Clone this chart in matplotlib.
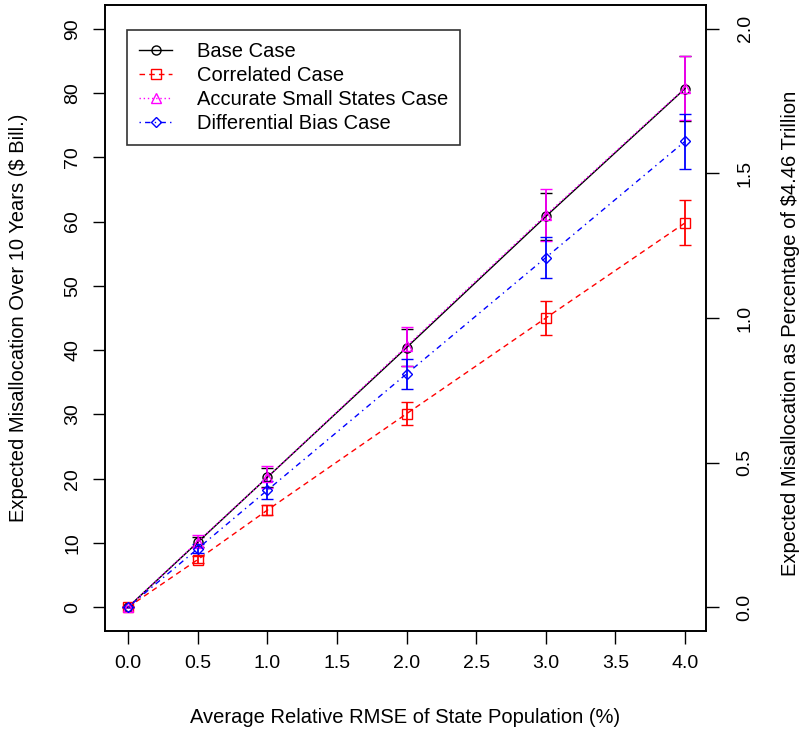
import matplotlib.pyplot as plt
import numpy as np

plt.rcParams["font.family"] = ["Liberation Sans", "DejaVu Sans"]

# relative RMSE of state population (%)
rmse = [0.0, 0.5, 1.0, 2.0, 3.0, 4.0]

base = [0.0, 10.1, 20.2, 40.4, 60.8, 80.7]
base_err = [0.0, 0.8, 1.5, 2.9, 3.6, 5.0]

correlated = [0.0, 7.4, 15.1, 30.1, 45.0, 59.8]
correlated_err = [0.0, 0.5, 0.8, 1.8, 2.7, 3.5]

small_states = [0.0, 10.2, 20.2, 40.6, 61.0, 80.8]
small_states_err = [0.0, 1.0, 1.7, 3.0, 4.0, 5.0]

diff_bias = [0.0, 9.1, 18.2, 36.3, 54.4, 72.5]
diff_bias_err = [0.0, 0.7, 1.4, 2.3, 3.2, 4.3]

x_ticks = [0.0, 0.5, 1.0, 1.5, 2.0, 2.5, 3.0, 3.5, 4.0]
y_ticks = [0, 10, 20, 30, 40, 50, 60, 70, 80, 90]
pct_ticks = [0.0, 0.5, 1.0, 1.5, 2.0]
scale = 45.0  # $ bill. per percentage point on the right axis

series = [
    ("Base Case", base, base_err, "black", "-", "o"),
    ("Correlated Case", correlated, correlated_err, "red", (0, (4, 3)), "s"),
    ("Accurate Small States Case", small_states, small_states_err, "magenta", (0, (1, 2)), "^"),
    ("Differential Bias Case", diff_bias, diff_bias_err, "blue", (0, (1, 3, 4, 3)), "D"),
]

fs = 14.5

fig = plt.figure(figsize=(8.03, 7.31), dpi=100)
ax = fig.add_axes([0.1308, 0.1368, 0.7484, 0.8564])

for label, y, err, color, ls, marker in series:
    ms = 5.5 if marker == "D" else 6.5
    ax.errorbar(rmse, y, yerr=err, color=color, linestyle=ls, linewidth=1,
                marker=marker, markersize=ms, markerfacecolor="none",
                markeredgecolor=color, markeredgewidth=1,
                ecolor=color, elinewidth=1.3, capsize=4, capthick=1.3,
                label=label)

ax.set_xlim(-0.165, 4.15)
ax.set_ylim(-3.7, 93.7)
ax.set_xticks(x_ticks)
ax.set_xticklabels(["%.1f" % v for v in x_ticks])
ax.set_yticks(y_ticks)
ax.set_yticklabels([str(v) for v in y_ticks], rotation=90, va="center")
ax.tick_params(direction="out", length=9, width=1, labelsize=14, pad=8)
ax.tick_params(axis="y", pad=8)
for sp in ax.spines.values():
    sp.set_linewidth(1.2)

ax.set_xlabel("Average Relative RMSE of State Population (%)", fontsize=fs, labelpad=26)
ax.set_ylabel("Expected Misallocation Over 10 Years ($ Bill.)", fontsize=fs, labelpad=26)

ax2 = ax.twinx()
ax2.set_ylim(-3.7 / scale, 93.7 / scale)
ax2.set_yticks(pct_ticks)
ax2.set_yticklabels(["%.1f" % v for v in pct_ticks], rotation=90, va="center")
ax2.tick_params(direction="out", length=9, width=1, labelsize=14, pad=13)
ax2.set_ylabel("Expected Misallocation as Percentage of $4.46 Trillion",
               fontsize=fs, rotation=90, va="center")
ax2.yaxis.set_label_coords(1.14, 0.475)
for sp in ax2.spines.values():
    sp.set_linewidth(1.2)

handles, labels = ax.get_legend_handles_labels()
handles = [h[0] for h in handles]
leg = ax.legend(handles, labels, loc="upper left", bbox_to_anchor=(0.0366, 0.96),
                fontsize=fs, frameon=True, fancybox=False, edgecolor="black",
                handlelength=1.65, handletextpad=1.2, borderpad=0.6, labelspacing=0.25,
                borderaxespad=0)
leg.get_frame().set_linewidth(1.2)

fig.savefig("out.png", dpi=100)
